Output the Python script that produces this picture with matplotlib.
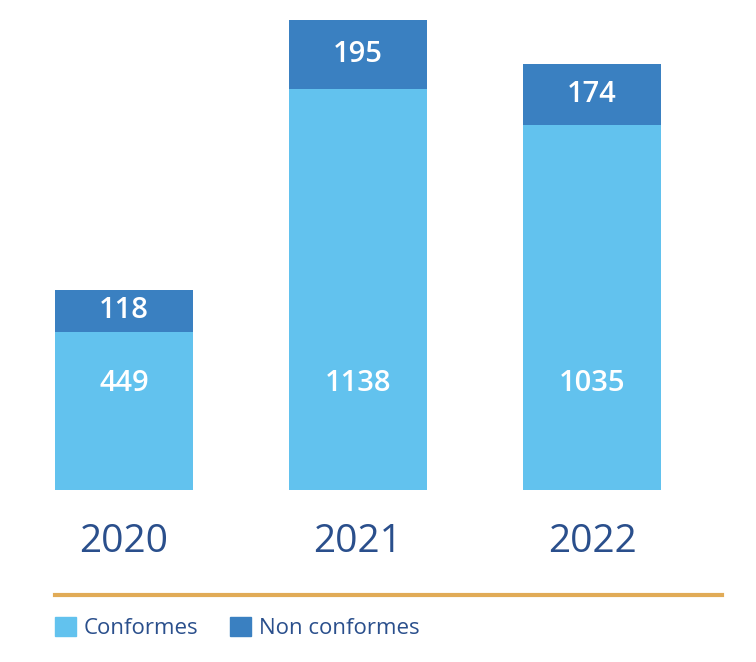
import numpy as np
import matplotlib.pyplot as plt
from matplotlib.lines import Line2D
from matplotlib.patches import Patch
from matplotlib.transforms import blended_transform_factory

years = ["2020", "2021", "2022"]
conformes = [449, 1138, 1035]
non_conformes = [118, 195, 174]

LIGHT = "#62c2ee"
DARK = "#3a80c1"
TEXT_BLUE = "#2a4f8c"
GOLD = "#e1ab57"

plt.rcParams["font.family"] = ["Open Sans", "DejaVu Sans"]

W, H = 756, 662
fig = plt.figure(figsize=(W / 100, H / 100), dpi=100)

# axes spans the full width, bottom edge is the bar baseline
ax = fig.add_axes([0, 1 - 490 / H, 1, 490 / H])
x = np.arange(len(years))
ax.set_xlim(-124 / 234, (W - 124) / 234)
ax.set_ylim(0, 1390)
ax.axis("off")

ax.bar(x, conformes, width=0.59, color=LIGHT)
ax.bar(x, non_conformes, width=0.59, bottom=conformes, color=DARK)

year_tr = blended_transform_factory(ax.transData, fig.transFigure)
for xi, c, n, yr in zip(x, conformes, non_conformes, years):
    ax.text(xi, 0.218, str(c), transform=ax.get_xaxis_transform(),
            ha="center", va="center", color="white", fontsize=21, fontweight="semibold")
    ax.text(xi, c + n / 2, str(n), ha="center", va="center",
            color="white", fontsize=21, fontweight="semibold")
    ax.text(xi, 1 - 542 / H, yr, transform=year_tr,
            ha="center", va="center", color=TEXT_BLUE, fontsize=28)

fig.add_artist(Line2D([55 / W, 722 / W], [1 - 595 / H, 1 - 595 / H],
                      transform=fig.transFigure, color=GOLD, linewidth=3))

handles = [Patch(color=LIGHT, label="Conformes"), Patch(color=DARK, label="Non conformes")]
fig.legend(handles=handles, loc="center left", bbox_to_anchor=(55 / W, 1 - 628 / H),
           ncol=2, frameon=False, fontsize=16, labelcolor=TEXT_BLUE,
           handlelength=0.95, handleheight=0.95, handletextpad=0.35,
           columnspacing=1.4, borderpad=0, borderaxespad=0)

fig.savefig("out.png", dpi=100)
